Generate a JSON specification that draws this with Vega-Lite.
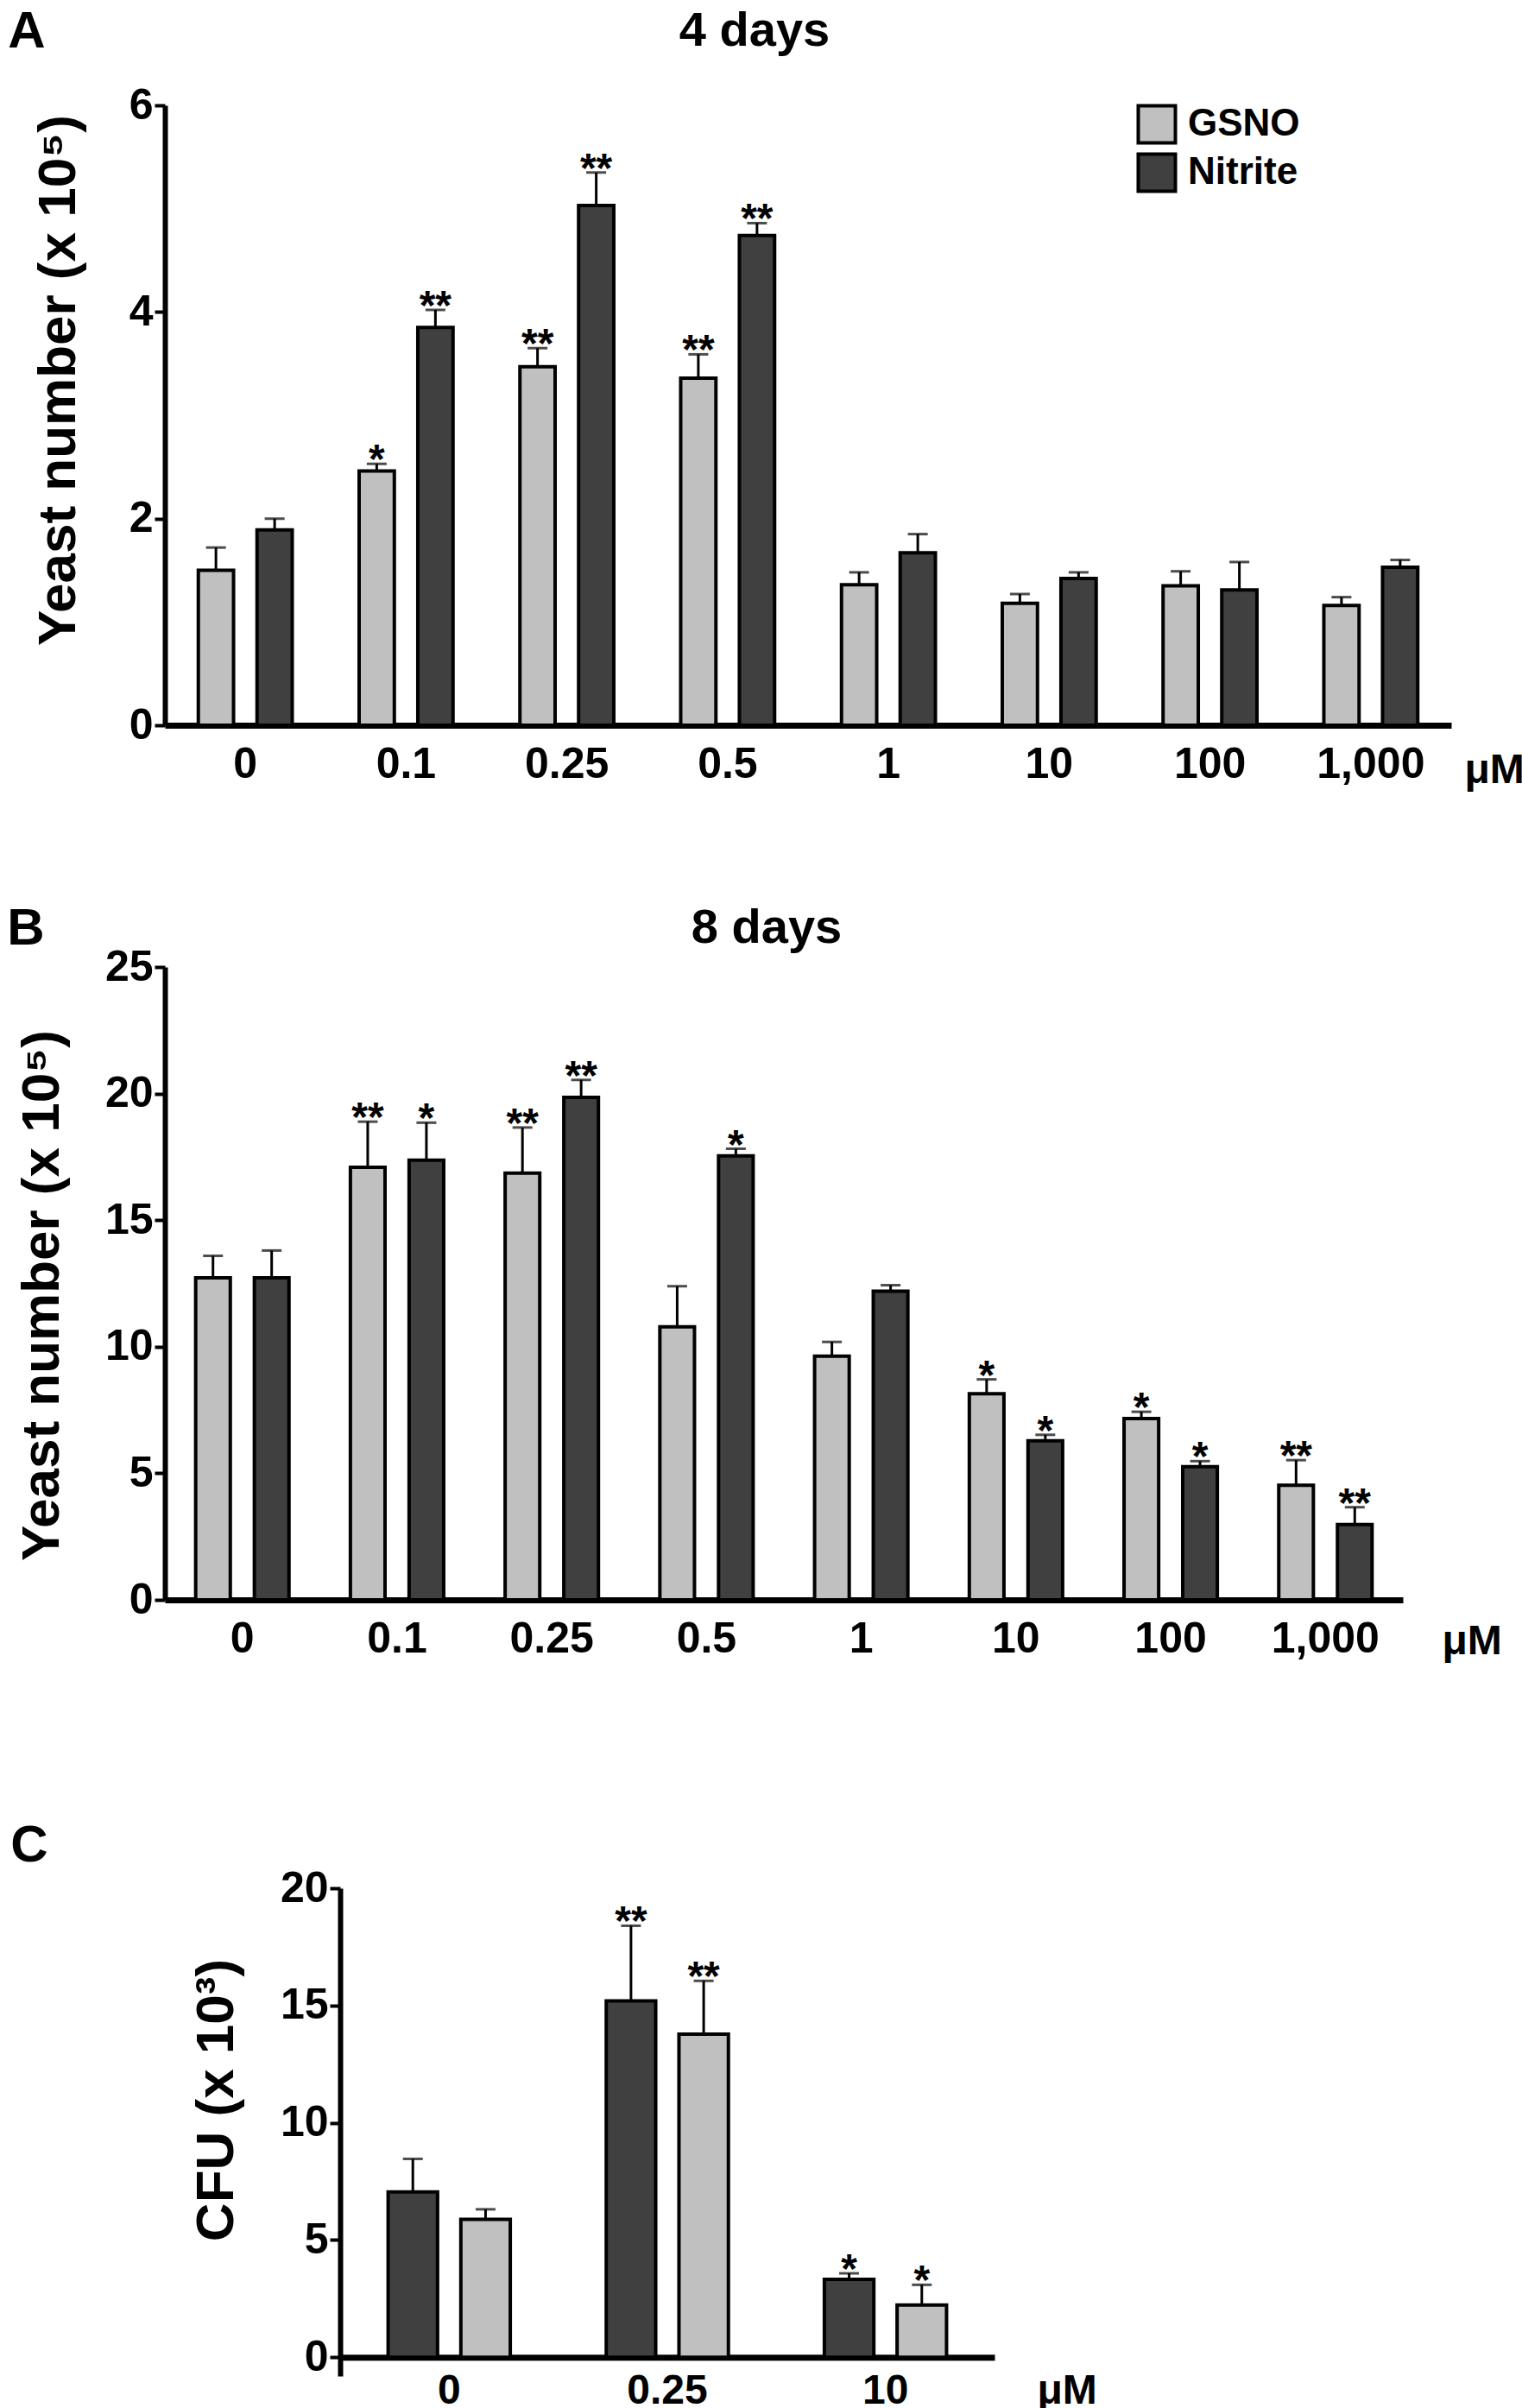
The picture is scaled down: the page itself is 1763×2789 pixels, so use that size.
{
  "$schema": "https://vega.github.io/schema/vega-lite/v6.json",
  "background": "white",
  "padding": {"left": 8, "top": 7, "right": 0, "bottom": 0},
  "columns": 1,
  "spacing": 183,
  "resolve": {
    "scale": {"x": "independent", "y": "independent", "xOffset": "independent", "color": "independent"},
    "legend": {"color": "independent"}
  },
  "datasets": {
    "a": [
      {"conc": "0", "treatment": "GSNO", "mean": 1.50, "err": 1.72, "sig": ""},
      {"conc": "0", "treatment": "Nitrite", "mean": 1.89, "err": 2.00, "sig": ""},
      {"conc": "0.1", "treatment": "GSNO", "mean": 2.46, "err": 2.53, "sig": "*"},
      {"conc": "0.1", "treatment": "Nitrite", "mean": 3.85, "err": 4.02, "sig": "**"},
      {"conc": "0.25", "treatment": "GSNO", "mean": 3.47, "err": 3.65, "sig": "**"},
      {"conc": "0.25", "treatment": "Nitrite", "mean": 5.03, "err": 5.35, "sig": "**"},
      {"conc": "0.5", "treatment": "GSNO", "mean": 3.36, "err": 3.59, "sig": "**"},
      {"conc": "0.5", "treatment": "Nitrite", "mean": 4.74, "err": 4.86, "sig": "**"},
      {"conc": "1", "treatment": "GSNO", "mean": 1.36, "err": 1.48, "sig": ""},
      {"conc": "1", "treatment": "Nitrite", "mean": 1.67, "err": 1.85, "sig": ""},
      {"conc": "10", "treatment": "GSNO", "mean": 1.18, "err": 1.27, "sig": ""},
      {"conc": "10", "treatment": "Nitrite", "mean": 1.42, "err": 1.48, "sig": ""},
      {"conc": "100", "treatment": "GSNO", "mean": 1.35, "err": 1.49, "sig": ""},
      {"conc": "100", "treatment": "Nitrite", "mean": 1.31, "err": 1.58, "sig": ""},
      {"conc": "1,000", "treatment": "GSNO", "mean": 1.16, "err": 1.24, "sig": ""},
      {"conc": "1,000", "treatment": "Nitrite", "mean": 1.53, "err": 1.60, "sig": ""}
    ],
    "b": [
      {"conc": "0", "treatment": "GSNO", "mean": 12.72, "err": 13.59, "sig": ""},
      {"conc": "0", "treatment": "Nitrite", "mean": 12.72, "err": 13.80, "sig": ""},
      {"conc": "0.1", "treatment": "GSNO", "mean": 17.09, "err": 18.89, "sig": "**"},
      {"conc": "0.1", "treatment": "Nitrite", "mean": 17.37, "err": 18.85, "sig": "*"},
      {"conc": "0.25", "treatment": "GSNO", "mean": 16.86, "err": 18.66, "sig": "**"},
      {"conc": "0.25", "treatment": "Nitrite", "mean": 19.85, "err": 20.54, "sig": "**"},
      {"conc": "0.5", "treatment": "GSNO", "mean": 10.79, "err": 12.39, "sig": ""},
      {"conc": "0.5", "treatment": "Nitrite", "mean": 17.54, "err": 17.82, "sig": "*"},
      {"conc": "1", "treatment": "GSNO", "mean": 9.63, "err": 10.19, "sig": ""},
      {"conc": "1", "treatment": "Nitrite", "mean": 12.19, "err": 12.43, "sig": ""},
      {"conc": "10", "treatment": "GSNO", "mean": 8.14, "err": 8.71, "sig": "*"},
      {"conc": "10", "treatment": "Nitrite", "mean": 6.28, "err": 6.52, "sig": "*"},
      {"conc": "100", "treatment": "GSNO", "mean": 7.16, "err": 7.43, "sig": "*"},
      {"conc": "100", "treatment": "Nitrite", "mean": 5.26, "err": 5.48, "sig": "*"},
      {"conc": "1,000", "treatment": "GSNO", "mean": 4.53, "err": 5.52, "sig": "**"},
      {"conc": "1,000", "treatment": "Nitrite", "mean": 2.98, "err": 3.66, "sig": "**"}
    ],
    "c": [
      {"conc": "0", "treatment": "Nitrite", "mean": 7.05, "err": 8.46, "sig": ""},
      {"conc": "0", "treatment": "GSNO", "mean": 5.88, "err": 6.31, "sig": ""},
      {"conc": "0.25", "treatment": "Nitrite", "mean": 15.2, "err": 18.4, "sig": "**"},
      {"conc": "0.25", "treatment": "GSNO", "mean": 13.78, "err": 16.05, "sig": "**"},
      {"conc": "10", "treatment": "Nitrite", "mean": 3.32, "err": 3.58, "sig": "*"},
      {"conc": "10", "treatment": "GSNO", "mean": 2.23, "err": 3.09, "sig": "*"}
    ]
  },
  "concat": [
    {
      "columns": 1,
      "spacing": 130,
      "resolve": {
        "scale": {"x": "independent", "y": "independent", "xOffset": "independent", "color": "independent"},
        "legend": {"color": "independent"}
      },
      "concat": [
        {
          "title": {"text": "A", "orient": "left", "anchor": "end", "angle": 0, "align": "right", "baseline": "top", "fontSize": 60, "offset": -60, "frame": "bounds"},
          "resolve": {"scale": {"color": "independent"}, "legend": {"color": "independent"}},
          "vconcat": [
            {
              "width": 1490,
              "height": 718,
              "title": {"text": "4 days", "fontSize": 56, "anchor": "middle", "frame": "group", "dx": -62, "offset": -12, "baseline": "alphabetic"},
              "data": {"name": "a"},
              "encoding": {
                "x": {
                  "field": "conc", "type": "nominal",
                  "sort": ["0", "0.1", "0.25", "0.5", "1", "10", "100", "1,000"],
                  "scale": {"paddingInner": 0.416, "paddingOuter": 0.208},
                  "axis": {"title": "μM", "titleX": 1505, "titleY": 28, "titleAlign": "left", "titleBaseline": "top", "titleFontSize": 48, "labelAngle": 0, "labelFontSize": 50, "labelPadding": 20, "ticks": false, "tickSize": 0, "domainWidth": 7}
                },
                "xOffset": {"field": "treatment", "sort": ["GSNO", "Nitrite"], "scale": {"paddingInner": 0.4, "paddingOuter": 0}}
              },
              "layer": [
                {
                  "mark": {"type": "rule", "strokeWidth": 3, "color": "black"},
                  "encoding": {
                    "y": {"field": "mean", "type": "quantitative", "title": "Yeast number (x 10⁵)"},
                    "y2": {"field": "err"}
                  }
                },
                {
                  "mark": {"type": "tick", "orient": "horizontal", "size": 23, "thickness": 3, "color": "black"},
                  "encoding": {"y": {"field": "err", "type": "quantitative", "title": "Yeast number (x 10⁵)"}}
                },
                {
                  "mark": {"type": "bar", "stroke": "black", "strokeWidth": 4},
                  "encoding": {
                    "y": {
                      "field": "mean", "type": "quantitative", "title": "Yeast number (x 10⁵)",
                      "scale": {"domain": [0, 6], "nice": false},
                      "axis": {"values": [0, 2, 4, 6], "format": "d", "domainWidth": 6, "tickWidth": 4, "tickSize": 12, "labelFontSize": 50, "labelPadding": 2, "titleFontSize": 62, "titleX": -105, "titleY": 318, "titleBaseline": "alphabetic", "titleAlign": "center", "titleAngle": 270}
                    },
                    "color": {
                      "field": "treatment", "type": "nominal",
                      "scale": {"domain": ["GSNO", "Nitrite"], "range": ["#c0c0c0", "#404040"]},
                      "legend": {"orient": "none", "legendX": 1125, "legendY": -2, "title": null, "symbolType": "square", "symbolSize": 1850, "symbolStrokeColor": "black", "symbolStrokeWidth": 4, "symbolOpacity": 1, "labelFontSize": 44, "labelFont": "Liberation Sans", "labelFontWeight": "bold", "labelColor": "black", "rowPadding": -4, "labelOffset": 12}
                    }
                  }
                },
                {
                  "mark": {"type": "text", "fontSize": 48, "fontWeight": "bold", "font": "Liberation Sans", "baseline": "alphabetic", "dy": 11, "color": "black"},
                  "encoding": {
                    "y": {"field": "err", "type": "quantitative", "title": "Yeast number (x 10⁵)"},
                    "text": {"field": "sig"}
                  }
                }
              ]
            }
          ]
        },
        {
          "title": {"text": "B", "orient": "left", "anchor": "end", "angle": 0, "align": "right", "baseline": "top", "fontSize": 60, "offset": -78, "frame": "bounds"},
          "resolve": {"scale": {"color": "independent"}, "legend": {"color": "independent"}},
          "vconcat": [
            {
              "width": 1434,
              "height": 733,
              "title": {"text": "8 days", "fontSize": 56, "anchor": "middle", "frame": "group", "dx": -20, "offset": -53, "baseline": "alphabetic"},
              "data": {"name": "b"},
              "encoding": {
                "x": {
                  "field": "conc", "type": "nominal",
                  "sort": ["0", "0.1", "0.25", "0.5", "1", "10", "100", "1,000"],
                  "scale": {"paddingInner": 0.397, "paddingOuter": 0.199},
                  "axis": {"title": "μM", "titleX": 1479, "titleY": 24, "titleAlign": "left", "titleBaseline": "top", "titleFontSize": 48, "labelAngle": 0, "labelFontSize": 50, "labelPadding": 20, "ticks": false, "tickSize": 0, "domainWidth": 7}
                },
                "xOffset": {"field": "treatment", "sort": ["GSNO", "Nitrite"], "scale": {"paddingInner": 0.41, "paddingOuter": 0}}
              },
              "layer": [
                {
                  "mark": {"type": "rule", "strokeWidth": 3, "color": "black"},
                  "encoding": {
                    "y": {"field": "mean", "type": "quantitative", "title": "Yeast number (x 10⁵)"},
                    "y2": {"field": "err"}
                  }
                },
                {
                  "mark": {"type": "tick", "orient": "horizontal", "size": 23, "thickness": 3, "color": "black"},
                  "encoding": {"y": {"field": "err", "type": "quantitative", "title": "Yeast number (x 10⁵)"}}
                },
                {
                  "mark": {"type": "bar", "stroke": "black", "strokeWidth": 4},
                  "encoding": {
                    "y": {
                      "field": "mean", "type": "quantitative", "title": "Yeast number (x 10⁵)",
                      "scale": {"domain": [0, 25], "nice": false},
                      "axis": {"values": [0, 5, 10, 15, 20, 25], "format": "d", "domainWidth": 6, "tickWidth": 4, "tickSize": 12, "labelFontSize": 50, "labelPadding": 2, "titleFontSize": 62, "titleX": -124, "titleY": 380, "titleBaseline": "alphabetic", "titleAlign": "center", "titleAngle": 270}
                    },
                    "color": {
                      "field": "treatment", "type": "nominal",
                      "scale": {"domain": ["GSNO", "Nitrite"], "range": ["#c0c0c0", "#404040"]},
                      "legend": null
                    }
                  }
                },
                {
                  "mark": {"type": "text", "fontSize": 48, "fontWeight": "bold", "font": "Liberation Sans", "baseline": "alphabetic", "dy": 11, "color": "black"},
                  "encoding": {
                    "y": {"field": "err", "type": "quantitative", "title": "Yeast number (x 10⁵)"},
                    "text": {"field": "sig"}
                  }
                }
              ]
            }
          ]
        }
      ]
    },
    {
      "title": {"text": "C", "orient": "left", "anchor": "end", "angle": 0, "align": "right", "baseline": "top", "fontSize": 60, "offset": 92, "dy": -53, "frame": "bounds"},
      "resolve": {"scale": {"color": "independent"}, "legend": {"color": "independent"}},
      "vconcat": [
        {
          "width": 961,
          "height": 565,
          "data": {"name": "c"},
          "encoding": {
            "x": {
              "field": "conc", "type": "nominal",
              "sort": ["0", "0.25", "10"],
              "scale": {"range": [203, 961], "paddingInner": 0.44, "paddingOuter": 0.22},
              "axis": {"title": "μM", "titleX": 1010, "titleY": 15, "titleAlign": "left", "titleBaseline": "top", "titleFontSize": 48, "labelAngle": 0, "labelFontSize": 48, "labelPadding": 15, "ticks": false, "tickSize": 0, "domainWidth": 7, "offset": -21.7}
            },
            "xOffset": {"field": "treatment", "sort": ["Nitrite", "GSNO"], "scale": {"paddingInner": 0.32, "paddingOuter": 0}}
          },
          "layer": [
            {
              "mark": {"type": "rule", "strokeWidth": 3, "color": "black"},
              "encoding": {
                "y": {"field": "mean", "type": "quantitative", "title": "CFU (x 10³)"},
                "y2": {"field": "err"}
              }
            },
            {
              "mark": {"type": "tick", "orient": "horizontal", "size": 23, "thickness": 3, "color": "black"},
              "encoding": {"y": {"field": "err", "type": "quantitative", "title": "CFU (x 10³)"}}
            },
            {
              "mark": {"type": "bar", "stroke": "black", "strokeWidth": 4},
              "encoding": {
                "y": {
                  "field": "mean", "type": "quantitative", "title": "CFU (x 10³)",
                  "scale": {"domain": [-0.8, 20], "nice": false, "zero": false},
                  "axis": {"values": [0, 5, 10, 15, 20], "format": "d", "offset": -203, "domainWidth": 6, "tickWidth": 4, "tickSize": 12, "labelFontSize": 50, "labelPadding": 2, "titleFontSize": 62, "titleX": -125, "titleY": 245, "titleBaseline": "alphabetic", "titleAlign": "center", "titleAngle": 270}
                },
                "color": {
                  "field": "treatment", "type": "nominal",
                  "scale": {"domain": ["GSNO", "Nitrite"], "range": ["#c0c0c0", "#404040"]},
                  "legend": null
                }
              }
            },
            {
              "mark": {"type": "text", "fontSize": 48, "fontWeight": "bold", "font": "Liberation Sans", "baseline": "alphabetic", "dy": 11, "color": "black"},
              "encoding": {
                "y": {"field": "err", "type": "quantitative", "title": "CFU (x 10³)"},
                "text": {"field": "sig"}
              }
            }
          ]
        }
      ]
    }
  ],
  "config": {
    "view": {"stroke": null},
    "font": "Liberation Sans",
    "title": {"font": "Liberation Sans", "fontWeight": "bold", "color": "black"},
    "axis": {
      "labelFont": "Liberation Sans", "labelFontWeight": "bold", "labelColor": "black",
      "titleFont": "Liberation Sans", "titleFontWeight": "bold", "titleColor": "black",
      "domainColor": "black", "tickColor": "black", "grid": false, "zindex": 1
    }
  }
}
